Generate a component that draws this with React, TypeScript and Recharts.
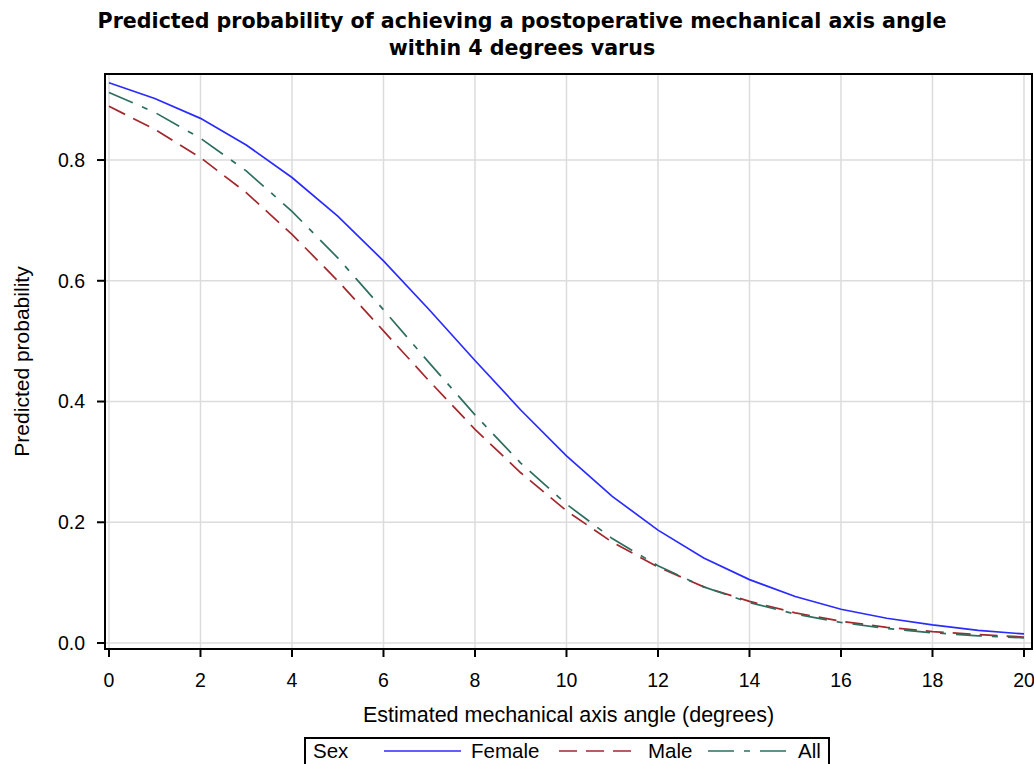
import React from 'react';
import { LineChart, Line, XAxis, YAxis, CartesianGrid, ReferenceArea, Label } from 'recharts';

// values at each integer angle
const angles = [0, 1, 2, 3, 4, 5, 6, 7, 8, 9, 10, 11, 12, 13, 14, 15, 16, 17, 18, 19, 20];
const female = [0.928, 0.902, 0.869, 0.825, 0.771, 0.707, 0.633, 0.552, 0.468, 0.386, 0.31, 0.243, 0.187, 0.141, 0.105, 0.077, 0.056, 0.041, 0.03, 0.021, 0.015];
const male = [0.889, 0.851, 0.804, 0.746, 0.677, 0.6, 0.517, 0.434, 0.354, 0.282, 0.219, 0.167, 0.126, 0.093, 0.069, 0.05, 0.036, 0.026, 0.019, 0.014, 0.01];
const all = [0.912, 0.879, 0.836, 0.782, 0.715, 0.638, 0.552, 0.464, 0.378, 0.298, 0.23, 0.173, 0.128, 0.093, 0.067, 0.048, 0.034, 0.024, 0.017, 0.012, 0.0085];

const xTicks = [0, 2, 4, 6, 8, 10, 12, 14, 16, 18, 20];
const yTicks = [0, 0.2, 0.4, 0.6, 0.8];
const xDomain = [-0.087, 20.175];
const yDomain = [-0.0099, 0.9425];

const series = [
  { key: 'female', name: 'Female', color: '#2b2bff', dash: undefined },
  { key: 'male', name: 'Male', color: '#a3282e', dash: '18 9' },
  { key: 'all', name: 'All', color: '#2f6e5f', dash: '26 10 6 10' },
];

const data = angles.map((a, i) => ({ x: a, female: female[i], male: male[i], all: all[i] }));

const font = '"Liberation Sans", Arial, sans-serif';

const LegendBox = () => {
  // x positions of the samples/labels inside the legend box
  const items = [
    { lx1: 80, lx2: 157, tx: 167 },
    { lx1: 255, lx2: 327, tx: 344 },
    { lx1: 404, lx2: 482, tx: 494 },
  ];
  return (
    <svg width={526} height={40} style={{ position: 'absolute', left: 304, top: 737, overflow: 'visible' }}>
      <rect x={1} y={1} width={524} height={40} fill="#fff" stroke="#000" strokeWidth={2} />
      <text x={9} y={21} fontSize={20.5} fontFamily={font} fill="#000">Sex</text>
      {series.map((s, i) => (
        <g key={s.key}>
          <line x1={items[i].lx1} x2={items[i].lx2} y1={14} y2={14} stroke={s.color} strokeWidth={1.7} strokeDasharray={s.dash} />
          <text x={items[i].tx} y={21} fontSize={20.5} fontFamily={font} fill="#000">{s.name}</text>
        </g>
      ))}
    </svg>
  );
};

export default function App() {
  return (
    <div style={{ position: 'absolute', left: 0, top: 0, width: 1034, height: 764, background: '#fff', overflow: 'hidden', fontFamily: font }}>
      <div style={{ position: 'absolute', left: 0, width: 1044, top: 8, textAlign: 'center', fontFamily: '"DejaVu Sans", sans-serif', fontWeight: 'bold', fontSize: 20.6, lineHeight: '27px', color: '#000' }}>
        Predicted probability of achieving a postoperative mechanical axis angle
        <br />
        within 4 degrees varus
      </div>
      <LineChart width={1034} height={764} data={data} margin={{ top: 74, right: 2, bottom: 0, left: 0 }}>
        <CartesianGrid stroke="#dcdcdc" strokeWidth={1.5} />
        <XAxis
          dataKey="x"
          type="number"
          domain={xDomain}
          allowDataOverflow
          ticks={xTicks}
          height={115}
          tickSize={8}
          tickMargin={16}
          axisLine={{ stroke: '#000', strokeWidth: 2 }}
          tickLine={{ stroke: '#000', strokeWidth: 2 }}
          tick={{ fill: '#000', fontSize: 19.5, fontFamily: font }}
        >
          <Label value="Estimated mechanical axis angle (degrees)" position="insideBottom" offset={42} fill="#000" fontSize={21.5} fontFamily={font} />
        </XAxis>
        <YAxis
          type="number"
          domain={yDomain}
          allowDataOverflow
          ticks={yTicks}
          width={105}
          tickSize={8}
          tickMargin={12}
          tickFormatter={(v: number) => v.toFixed(1)}
          axisLine={{ stroke: '#000', strokeWidth: 2 }}
          tickLine={{ stroke: '#000', strokeWidth: 2 }}
          tick={{ fill: '#000', fontSize: 19.5, fontFamily: font }}
        >
          <Label value="Predicted probability" angle={-90} position="insideLeft" offset={22} style={{ textAnchor: 'middle' }} fill="#000" fontSize={21} fontFamily={font} />
        </YAxis>
        {series.map((s) => (
          <Line
            key={s.key}
            type="linear"
            dataKey={s.key}
            name={s.name}
            stroke={s.color}
            strokeWidth={1.7}
            strokeDasharray={s.dash}
            dot={false}
            activeDot={false}
            isAnimationActive={false}
          />
        ))}
        <ReferenceArea x1={xDomain[0]} x2={xDomain[1]} y1={yDomain[0]} y2={yDomain[1]} fill="none" stroke="#000" strokeWidth={2} />
      </LineChart>
      <LegendBox />
    </div>
  );
}
